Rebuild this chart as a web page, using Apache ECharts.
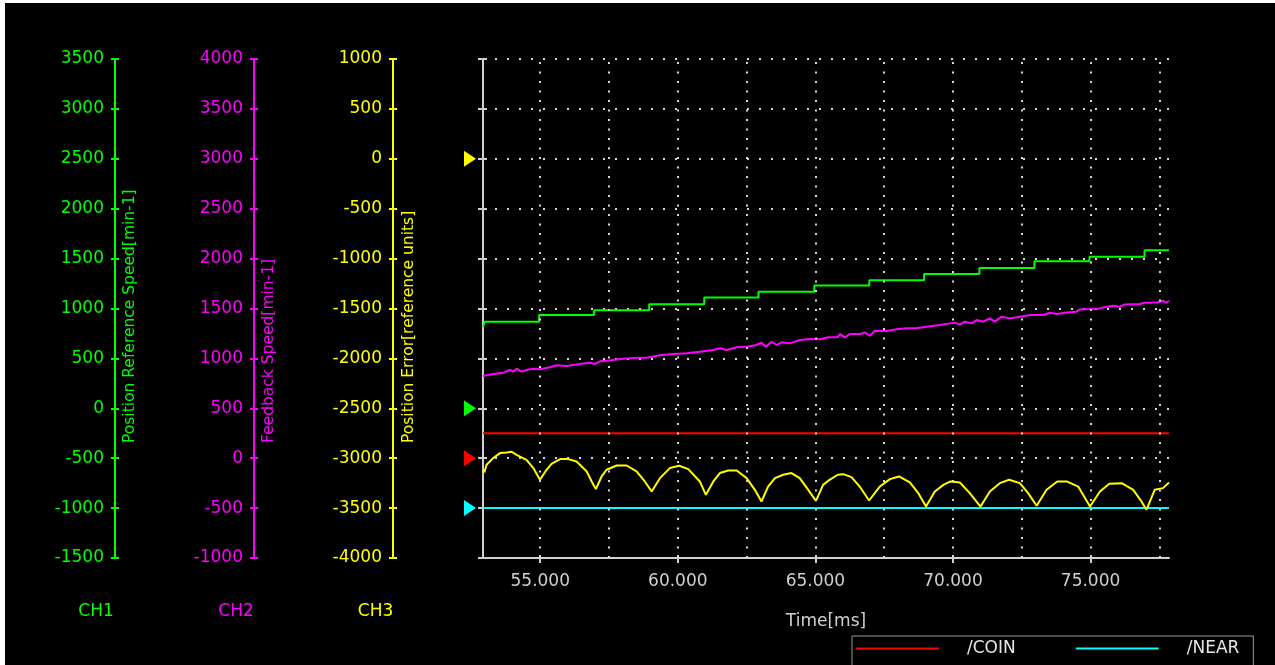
<!DOCTYPE html>
<html>
<head>
<meta charset="utf-8">
<script src="https://cdn.jsdelivr.net/npm/echarts@6/dist/echarts.min.js"></script>
<style>
  html, body { margin: 0; padding: 0; background: #000; overflow: hidden; }
  #chart { position: absolute; left: 0; top: 0; width: 1275px; height: 665px; }
  .edge { position: absolute; background: #fff; }
</style>
</head>
<body>
<div id="chart"></div>
<div class="edge" style="left:0;top:0;width:5px;height:665px"></div>
<div class="edge" style="left:0;top:0;width:1275px;height:3px"></div>
<script>
// ---- time window [ms] ----
const timeRange = [52.92, 77.85];
const timeLabelValues = [55, 60, 65, 70, 75];
const timeGridValues = [55, 57.5, 60, 62.5, 65, 67.5, 70, 72.5, 75, 77.5];

// ---- channel scales ----
const ch1Range = [-1500, 3500];   // Position Reference Speed [min-1]
const ch2Range = [-1000, 4000];   // Feedback Speed [min-1]
const ch3Range = [-4000, 1000];   // Position Error [reference units]
const channelStep = 500;
const divisionRange = [0, 10];    // 10 screen divisions for the digital signals

// ---- CH1: position reference speed (staircase) ----
const ch1Times  = [52.92, 52.98, 54.96, 56.96, 58.96, 60.96, 62.93, 64.96, 66.96, 68.95, 70.96, 72.96, 74.96, 76.96, 77.85];
const ch1Values = [812, 868, 935, 982, 1043, 1110, 1168, 1230, 1283, 1346, 1406, 1473, 1519, 1583, 1583];

// ---- CH2: feedback speed ----
const ch2Times = [52.92, 53.29, 53.66, 53.90, 54.02, 54.14, 54.32, 54.51, 54.75, 54.99, 55.35, 55.60, 55.96,
  56.44, 56.81, 56.99, 57.17, 57.41, 57.65, 58.02, 58.50, 58.87, 59.35, 59.83, 60.32, 60.80, 61.29, 61.53,
  61.77, 62.14, 62.50, 62.86, 63.04, 63.20, 63.41, 63.59, 63.77, 64.07, 64.44, 64.80, 65.16, 65.47, 65.81,
  65.89, 66.07, 66.25, 66.62, 66.80, 66.98, 67.16, 67.59, 67.95, 68.31, 68.68, 69.04, 69.52, 69.89, 70.07,
  70.25, 70.43, 70.68, 70.86, 71.10, 71.34, 71.52, 71.77, 72.07, 72.43, 72.80, 73.28, 73.52, 73.77, 74.13,
  74.49, 74.61, 74.97, 75.34, 75.46, 75.82, 76.06, 76.25, 76.79, 76.97, 77.40, 77.64, 77.74, 77.85];
const ch2Values = [824, 844, 857, 884, 867, 897, 867, 884, 897, 891, 911, 931, 924,
  944, 957, 944, 971, 977, 984, 997, 1007, 1007, 1031, 1044, 1051, 1067, 1084, 1101,
  1084, 1111, 1117, 1134, 1157, 1117, 1167, 1134, 1161, 1151, 1184, 1194, 1191, 1211, 1211,
  1244, 1211, 1244, 1244, 1261, 1227, 1278, 1274, 1291, 1301, 1301, 1318, 1334, 1351, 1358,
  1338, 1368, 1351, 1384, 1368, 1401, 1368, 1418, 1401, 1418, 1435, 1435, 1458, 1445, 1461,
  1468, 1491, 1495, 1501, 1511, 1528, 1518, 1541, 1545, 1558, 1561, 1578, 1558, 1578];

// ---- CH3: position error ----
const ch3Times = [52.92, 52.97, 53.05, 53.29, 53.54, 53.78, 53.95, 54.02, 54.14, 54.50, 54.75, 54.99,
  55.23, 55.41, 55.72, 56.02, 56.32, 56.69, 56.87, 57.02, 57.23, 57.41, 57.78, 58.14, 58.50, 58.80, 59.05,
  59.35, 59.71, 60.05, 60.38, 60.80, 61.02, 61.29, 61.53, 61.83, 62.14, 62.50, 62.80, 63.04, 63.28, 63.53,
  63.83, 64.13, 64.43, 64.74, 65.02, 65.28, 65.50, 65.81, 66.01, 66.31, 66.61, 66.95, 67.34, 67.71, 68.04,
  68.43, 68.74, 69.02, 69.34, 69.65, 69.91, 70.25, 70.61, 71.00, 71.34, 71.70, 72.04, 72.43, 72.73, 73.04,
  73.40, 73.79, 74.13, 74.55, 74.98, 75.34, 75.68, 76.13, 76.55, 76.85, 77.03, 77.33, 77.63, 77.85];
const ch3Values = [-3116, -3140, -3066, -2999, -2949, -2943, -2935, -2916, -2966, -3016, -3099, -3216,
  -3116, -3056, -3009, -3009, -3033, -3133, -3233, -3310, -3183, -3116, -3073, -3073, -3133, -3233, -3333,
  -3200, -3099, -3076, -3109, -3233, -3367, -3233, -3149, -3123, -3123, -3200, -3317, -3434, -3284, -3200,
  -3166, -3149, -3200, -3317, -3427, -3267, -3220, -3166, -3160, -3190, -3284, -3424, -3284, -3210, -3183,
  -3243, -3350, -3484, -3333, -3267, -3233, -3243, -3350, -3484, -3333, -3250, -3216, -3250, -3350, -3477,
  -3317, -3233, -3233, -3284, -3484, -3333, -3256, -3250, -3317, -3434, -3517, -3317, -3300, -3243];

// ---- digital signals ----
const digitalTimes = [52.92, 77.85];
const coinStates = [1, 1];
const nearStates = [0, 0];
const coinBase = 2;      // division of the /COIN zero level
const nearBase = 1;      // division of the /NEAR zero level
const digitalHigh = 0.5; // division height of a high state

const FONT = '"DejaVu Sans", sans-serif';
const GREEN = '#00ff00', MAGENTA = '#ff00ff', YELLOW = '#ffff00', RED = '#ff0000', CYAN = '#00ffff';
const AXIS_GRAY = '#d0d0d0';
const DOT_GRAY = '#d8d8d8';

const zip = (xs, ys) => xs.map((x, i) => [x, ys[i]]);

function channelAxis(range, color, offset) {
  return {
    type: 'value', position: 'left', offset: offset,
    min: range[0], max: range[1], interval: channelStep,
    axisLine: { show: true, onZero: false, lineStyle: { color: color, width: 2 } },
    axisTick: { show: true, length: 4, lineStyle: { color: color, width: 2 } },
    axisLabel: { color: color, fontFamily: FONT, fontSize: 17, margin: 11, formatter: v => String(v) },
    splitLine: { show: false }
  };
}
function innerTicks(range, step, color, offset) {
  return {
    type: 'value', position: 'left', offset: offset,
    min: range[0], max: range[1], interval: step,
    axisLine: { show: false, onZero: false },
    axisTick: { show: true, inside: true, length: 4, lineStyle: { color: color, width: 2 } },
    axisLabel: { show: false },
    splitLine: { show: false }
  };
}
function marker(yIndex, value, color) {
  return {
    type: 'scatter', yAxisIndex: yIndex, clip: false, silent: true, z: 5,
    symbol: 'triangle', symbolSize: [16, 12], symbolRotate: -90, symbolOffset: [-13, 0],
    itemStyle: { color: color, opacity: 1 },
    data: [[timeRange[0], value]]
  };
}
function rotatedName(x, text, color) {
  return {
    type: 'text', x: x, y: 443, rotation: Math.PI / 2, silent: true,
    style: { text: text, fill: color, font: '15.5px ' + FONT,
             align: 'left', verticalAlign: 'middle', textAlign: 'left', textVerticalAlign: 'middle' }
  };
}
function chLabel(x, text, color) {
  return {
    type: 'text', x: x, y: 612, silent: true,
    style: { text: text, fill: color, font: '17px ' + FONT,
             align: 'center', verticalAlign: 'middle', textAlign: 'center', textVerticalAlign: 'middle' }
  };
}

const chart = echarts.init(document.getElementById('chart'), null, { renderer: 'canvas' });
chart.setOption({
  backgroundColor: '#000',
  animation: false,
  grid: { left: 483, right: 106, top: 59, bottom: 107, containLabel: false },
  legend: {
    left: 852, top: 636,
    data: ['/COIN', '/NEAR'],
    icon: 'rect', itemWidth: 83, itemHeight: 2, itemGap: 60,
    padding: [4, 14, 40, 4],
    borderColor: '#9a9a9a', borderWidth: 1,
    selectedMode: false,
    textStyle: { color: '#e6e6e6', fontFamily: FONT, fontSize: 17, padding: [0, 0, 0, 23] }
  },
  xAxis: [{
    type: 'value', min: timeRange[0], max: timeRange[1], splitNumber: 5, position: 'bottom',
    name: 'Time[ms]', nameLocation: 'middle', nameGap: 55,
    nameTextStyle: { color: AXIS_GRAY, fontFamily: FONT, fontSize: 17 },
    axisLine: { show: true, onZero: false, lineStyle: { color: AXIS_GRAY, width: 2 } },
    axisTick: { show: true, length: 5, customValues: timeLabelValues, lineStyle: { color: AXIS_GRAY, width: 2 } },
    axisLabel: { color: AXIS_GRAY, fontFamily: FONT, fontSize: 17, margin: 15,
                 customValues: timeLabelValues, formatter: v => v.toFixed(3) },
    splitLine: { show: false }
  }, {
    type: 'value', min: timeRange[0], max: timeRange[1], position: 'bottom',
    axisLine: { show: false, onZero: false },
    axisTick: { show: true, inside: true, length: 3, customValues: timeLabelValues, lineStyle: { color: AXIS_GRAY, width: 2 } },
    axisLabel: { show: false },
    splitLine: { show: false }
  }],
  yAxis: [
    channelAxis(ch1Range, GREEN, 368),
    channelAxis(ch2Range, MAGENTA, 229),
    channelAxis(ch3Range, YELLOW, 90),
    {
      type: 'value', position: 'left', offset: 0,
      min: divisionRange[0], max: divisionRange[1], interval: 1,
      axisLine: { show: true, onZero: false, lineStyle: { color: AXIS_GRAY, width: 2 } },
      axisTick: { show: true, length: 5, lineStyle: { color: AXIS_GRAY, width: 2 } },
      axisLabel: { show: false },
      splitLine: { show: true, lineStyle: { color: DOT_GRAY, width: 2, type: [2, 10] } }
    },
    innerTicks(ch1Range, channelStep, GREEN, 368),
    innerTicks(ch2Range, channelStep, MAGENTA, 229),
    innerTicks(ch3Range, channelStep, YELLOW, 90),
    innerTicks(divisionRange, 1, AXIS_GRAY, 0)
  ],
  graphic: [
    rotatedName(129.5, 'Position Reference Speed[min-1]', GREEN),
    rotatedName(269, 'Feedback Speed[min-1]', MAGENTA),
    rotatedName(408.5, 'Position Error[reference units]', YELLOW),
    chLabel(96, 'CH1', GREEN),
    chLabel(236, 'CH2', MAGENTA),
    chLabel(375.5, 'CH3', YELLOW)
  ],
  series: [
    {
      // vertical time grid
      type: 'line', yAxisIndex: 3, data: [], z: 1, silent: true,
      markLine: {
        silent: true, symbol: 'none', label: { show: false },
        lineStyle: { color: DOT_GRAY, width: 2, type: [2, 7.5] },
        data: timeGridValues.map(v => ({ xAxis: v }))
      }
    },
    {
      name: '/COIN', type: 'line', yAxisIndex: 3, z: 3, showSymbol: false,
      lineStyle: { color: RED, width: 2 }, itemStyle: { color: RED },
      data: zip(digitalTimes, coinStates.map(s => coinBase + s * digitalHigh))
    },
    {
      name: '/NEAR', type: 'line', yAxisIndex: 3, z: 3, showSymbol: false,
      lineStyle: { color: CYAN, width: 2 }, itemStyle: { color: CYAN },
      data: zip(digitalTimes, nearStates.map(s => nearBase + s * digitalHigh))
    },
    {
      name: 'CH1', type: 'line', yAxisIndex: 0, z: 3, showSymbol: false, step: 'end',
      lineStyle: { color: GREEN, width: 2 }, itemStyle: { color: GREEN },
      data: zip(ch1Times, ch1Values)
    },
    {
      name: 'CH2', type: 'line', yAxisIndex: 1, z: 3, showSymbol: false,
      lineStyle: { color: MAGENTA, width: 2 }, itemStyle: { color: MAGENTA },
      data: zip(ch2Times, ch2Values)
    },
    {
      name: 'CH3', type: 'line', yAxisIndex: 2, z: 3, showSymbol: false,
      lineStyle: { color: YELLOW, width: 2 }, itemStyle: { color: YELLOW },
      data: zip(ch3Times, ch3Values)
    },
    marker(2, 0, YELLOW),
    marker(0, 0, GREEN),
    marker(3, coinBase, RED),
    marker(3, nearBase, CYAN)
  ]
});
</script>
</body>
</html>
